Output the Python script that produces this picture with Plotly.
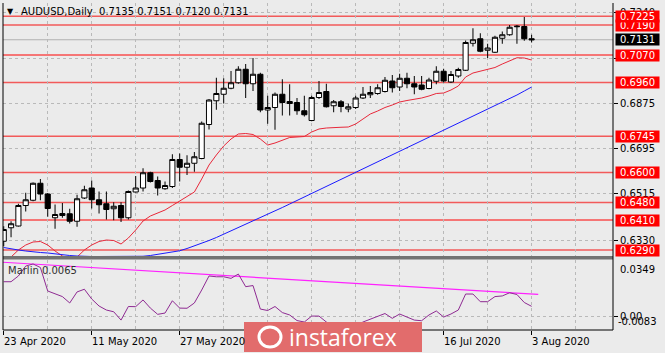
import plotly.graph_objects as go

# ---------------- data ----------------
idx = list(range(73))
opens = [0.6325, 0.6379, 0.6386, 0.6468, 0.6489, 0.6557, 0.6514, 0.6419, 0.6428, 0.6435,
         0.6405, 0.6498, 0.6538, 0.6491, 0.6475, 0.6455, 0.6468, 0.6419, 0.6522, 0.6538,
         0.6599, 0.6568, 0.6535, 0.6544, 0.6652, 0.6621, 0.6637, 0.6656, 0.6792, 0.6887,
         0.6913, 0.6937, 0.6959, 0.7013, 0.6955, 0.6993, 0.6850, 0.6860, 0.6913, 0.6884,
         0.6880, 0.6847, 0.6808, 0.6900, 0.6924, 0.6867, 0.6883, 0.6854, 0.6860, 0.6898,
         0.6911, 0.6916, 0.6924, 0.6966, 0.6942, 0.6977, 0.6955, 0.6950, 0.6936, 0.6965,
         0.7005, 0.6962, 0.6986, 0.7009, 0.7117, 0.7135, 0.7089, 0.7081, 0.7137, 0.7151,
         0.7183, 0.7184, 0.7135]
highs = [0.6385, 0.6405, 0.6475, 0.6519, 0.6560, 0.6574, 0.6518, 0.6472, 0.6478, 0.6455,
         0.6511, 0.6547, 0.6568, 0.6524, 0.6524, 0.6481, 0.6481, 0.6528, 0.6586, 0.6617,
         0.6603, 0.6584, 0.6564, 0.6673, 0.6676, 0.6669, 0.6682, 0.6804, 0.6894, 0.6979,
         0.6977, 0.7006, 0.7025, 0.7034, 0.7058, 0.6999, 0.6907, 0.6920, 0.6973, 0.6953,
         0.6898, 0.6907, 0.6907, 0.6966, 0.6955, 0.6890, 0.6890, 0.6876, 0.6907, 0.6942,
         0.6946, 0.6953, 0.6982, 0.6990, 0.6995, 0.6999, 0.6986, 0.6986, 0.6979, 0.7025,
         0.7015, 0.7006, 0.7019, 0.7128, 0.7177, 0.7157, 0.7115, 0.7147, 0.7164, 0.7190,
         0.7190, 0.7222, 0.7151]
lows = [0.6305, 0.6341, 0.6384, 0.6444, 0.6485, 0.6489, 0.6423, 0.6375, 0.6419, 0.6396,
        0.6383, 0.6494, 0.6456, 0.6436, 0.6412, 0.6409, 0.6402, 0.6412, 0.6520, 0.6524,
        0.6560, 0.6508, 0.6531, 0.6538, 0.6564, 0.6590, 0.6603, 0.6653, 0.6772, 0.6851,
        0.6876, 0.6933, 0.6955, 0.6898, 0.6926, 0.6841, 0.6795, 0.6771, 0.6828, 0.6828,
        0.6831, 0.6824, 0.6805, 0.6894, 0.6860, 0.6841, 0.6841, 0.6841, 0.6854, 0.6894,
        0.6898, 0.6911, 0.6920, 0.6920, 0.6926, 0.6937, 0.6913, 0.6929, 0.6933, 0.6953,
        0.6960, 0.6958, 0.6979, 0.7006, 0.7104, 0.7081, 0.7058, 0.7078, 0.7115, 0.7147,
        0.7115, 0.7127, 0.7120]
closes = [0.6372, 0.6395, 0.6468, 0.6491, 0.6557, 0.6514, 0.6456, 0.6432, 0.6436, 0.6405,
          0.6495, 0.6531, 0.6491, 0.6471, 0.6452, 0.6465, 0.6419, 0.6524, 0.6538, 0.6599,
          0.6564, 0.6538, 0.6548, 0.6652, 0.6621, 0.6637, 0.6663, 0.6797, 0.6890, 0.6916,
          0.6937, 0.6959, 0.7013, 0.6955, 0.6993, 0.6850, 0.6860, 0.6913, 0.6880, 0.6876,
          0.6847, 0.6831, 0.6900, 0.6920, 0.6863, 0.6883, 0.6864, 0.6863, 0.6898, 0.6913,
          0.6920, 0.6939, 0.6969, 0.6939, 0.6977, 0.6955, 0.6942, 0.6933, 0.6970, 0.7005,
          0.6966, 0.6992, 0.7012, 0.7120, 0.7131, 0.7085, 0.7098, 0.7141, 0.7151, 0.7181,
          0.7185, 0.7135, 0.7131]
ma_fast = [0.6242, 0.6262, 0.6290, 0.6310, 0.6322, 0.6324, 0.6310, 0.6286, 0.6266, 0.6256,
           0.6262, 0.6290, 0.6310, 0.6324, 0.6330, 0.6328, 0.6314, 0.6338, 0.6370, 0.6406,
           0.6426, 0.6438, 0.6450, 0.6468, 0.6486, 0.6502, 0.6522, 0.6574, 0.6630, 0.6670,
           0.6706, 0.6734, 0.6754, 0.6756, 0.6752, 0.6734, 0.6710, 0.6718, 0.6730, 0.6740,
           0.6742, 0.6744, 0.6762, 0.6774, 0.6778, 0.6781, 0.6781, 0.6782, 0.6794, 0.6814,
           0.6834, 0.6846, 0.6860, 0.6870, 0.6882, 0.6888, 0.6892, 0.6898, 0.6906, 0.6916,
           0.6918, 0.6930, 0.6946, 0.6982, 0.6998, 0.7006, 0.7014, 0.7020, 0.7034, 0.7048,
           0.7059, 0.7058, 0.7050]
ma_slow = [0.6300, 0.6294, 0.6290, 0.6286, 0.6282, 0.6280, 0.6278, 0.6274, 0.6270, 0.6268,
           0.6266, 0.6264, 0.6264, 0.6264, 0.6264, 0.6264, 0.6264, 0.6264, 0.6264, 0.6265,
           0.6268, 0.6272, 0.6276, 0.6280, 0.6287, 0.6296, 0.6306, 0.6316, 0.6328, 0.6340,
           0.6353, 0.6366, 0.6379, 0.6393, 0.6406, 0.6419, 0.6432, 0.6446, 0.6460, 0.6474,
           0.6488, 0.6502, 0.6516, 0.6530, 0.6544, 0.6558, 0.6572, 0.6586, 0.6600, 0.6614,
           0.6628, 0.6642, 0.6656, 0.6670, 0.6684, 0.6698, 0.6712, 0.6726, 0.6740, 0.6754,
           0.6768, 0.6782, 0.6796, 0.6810, 0.6824, 0.6838, 0.6852, 0.6866, 0.6880, 0.6894,
           0.6910, 0.6926, 0.6942]
marlin = [0.0219, 0.0219, 0.0255, 0.0317, 0.0330, 0.0308, 0.0161, 0.0142, 0.0126, 0.0086,
          0.0155, 0.0172, 0.0111, 0.0067, 0.0042, 0.0031, -0.0021, 0.0064, 0.0063, 0.0105,
          0.0054, 0.0015, 0.0023, 0.0100, 0.0054, 0.0053, 0.0086, 0.0167, 0.0255, 0.0250,
          0.0250, 0.0240, 0.0267, 0.0188, 0.0195, 0.0048, 0.0039, 0.0064, 0.0026, 0.0011,
          -0.0024, -0.0033, 0.0004, 0.0004, -0.0033, -0.0058, -0.0052, -0.0064, -0.0058, -0.0033,
          -0.0014, 0.0004, 0.0020, -0.0010, 0.0017, -0.0002, -0.0021, -0.0025, 0.0011, 0.0036,
          -0.0002, 0.0017, 0.0042, 0.0142, 0.0142, 0.0094, 0.0094, 0.0126, 0.0130, 0.0150,
          0.0139, 0.0089, 0.0065]
trend_x = [-0.5, 72.9]
trend_y = [0.0342, 0.0140]
levels = [0.6290, 0.6410, 0.6480, 0.6600, 0.6745, 0.6960, 0.7070, 0.7190, 0.7225]
level_strong = [False, True, False, False, False, False, True, False, False]
bid = 0.7131
price_ticks = [0.6330, 0.6515, 0.6695, 0.6875, 0.7057, 0.7240]
price_tick_text = ["0.6330", "0.6515", "0.6695", "0.6875", "", "0.7240"]
date_tick_idx = [0, 12, 24, 60, 72]
date_tick_text = ["23 Apr 2020", "11 May 2020", "27 May 2020", "16 Jul 2020", "3 Aug 2020"]
osc_max_text, osc_min_text = "0.0349", "-0.0083"
title_text = "AUDUSD,Daily  0.7135 0.7151 0.7120 0.7131"
osc_text = "Marlin 0.0065"

# ---------------- geometry helpers (pixel -> paper) ----------------
W, H = 665, 353
ML, MR, MT, MB = 3, 52, 3, 23
PW, PH = W - ML - MR, H - MT - MB


def px(x):
    return (x - ML) / PW


def py(y):
    return (H - MB - y) / PH


FONT = "DejaVu Sans"
BG = "#ebebeb"
GRID = "#b9b9b9"

fig = go.Figure()

fig.add_trace(go.Candlestick(
    x=idx, open=opens, high=highs, low=lows, close=closes,
    xaxis="x", yaxis="y",
    increasing=dict(line=dict(color="black", width=1), fillcolor="white"),
    decreasing=dict(line=dict(color="black", width=1), fillcolor="black"),
    whiskerwidth=0, showlegend=False, hoverinfo="skip"))
fig.add_trace(go.Scatter(x=idx, y=ma_fast, mode="lines", xaxis="x", yaxis="y",
                         line=dict(color="#e8283a", width=1), showlegend=False))
fig.add_trace(go.Scatter(x=idx, y=ma_slow, mode="lines", xaxis="x", yaxis="y",
                         line=dict(color="#1a1aff", width=1), showlegend=False))
fig.add_trace(go.Scatter(x=trend_x, y=trend_y, mode="lines", xaxis="x2", yaxis="y2",
                         line=dict(color="#ff22ff", width=1.2), showlegend=False))
fig.add_trace(go.Scatter(x=idx, y=marlin, mode="lines", xaxis="x2", yaxis="y2",
                         line=dict(color="#8e2a92", width=1), showlegend=False))

shapes = []
# horizontal levels
for lv, strong in zip(levels, level_strong):
    shapes.append(dict(type="line", xref="paper", yref="y", x0=0, x1=1, y0=lv, y1=lv,
                       line=dict(color="#ff0000" if strong else "#f25a5a",
                                 width=1 if strong else 1.6), layer="below"))
# bid line
shapes.append(dict(type="line", xref="paper", yref="y", x0=0, x1=1, y0=bid, y1=bid,
                   line=dict(color="#b0b0b0", width=1), layer="below"))
# separator between panes
shapes.append(dict(type="rect", xref="paper", yref="paper", x0=0, x1=1,
                   y0=py(259.5), y1=py(256), fillcolor="#727272", line=dict(width=0)))
# borders
shapes.append(dict(type="line", xref="paper", yref="paper", x0=0, x1=0, y0=0, y1=1,
                   line=dict(color="black", width=1)))
shapes.append(dict(type="line", xref="paper", yref="paper", x0=1, x1=1, y0=0, y1=1,
                   line=dict(color="black", width=1)))
shapes.append(dict(type="line", xref="paper", yref="paper", x0=0, x1=1, y0=0, y1=0,
                   line=dict(color="black", width=1)))
# logo box
shapes.append(dict(type="rect", xref="paper", yref="paper", x0=px(244), x1=px(422),
                   y0=py(352), y1=py(322), fillcolor="#e26c6c", line=dict(width=0),
                   layer="above"))
shapes.append(dict(type="circle", xref="paper", yref="paper", x0=px(259), x1=px(281),
                   y0=py(347), y1=py(327), line=dict(color="white", width=3),
                   layer="above"))

annotations = []
# level labels (0.7225 drawn last so it sits on top of 0.7190)
for lv in levels:
    if lv == 0.7225:
        continue
    annotations.append(dict(xref="paper", yref="y", x=px(615), y=lv, xanchor="left",
                            yanchor="middle", text=f"{lv:.4f}", showarrow=False,
                            bgcolor="#ff0000", font=dict(color="white", size=10, family=FONT),
                            borderpad=0, width=43))
annotations.append(dict(xref="paper", yref="y", x=px(615), y=0.7225, xanchor="left",
                        yanchor="middle", text="0.7225", showarrow=False,
                        bgcolor="#ff0000", font=dict(color="white", size=10, family=FONT),
                        borderpad=0, width=43))
annotations.append(dict(xref="paper", yref="y", x=px(615), y=bid, xanchor="left",
                        yanchor="middle", text=f"{bid:.4f}", showarrow=False,
                        bgcolor="black", font=dict(color="white", size=10, family=FONT),
                        borderpad=0, width=43))
# title
annotations.append(dict(xref="paper", yref="paper", x=px(5), y=py(12), xanchor="left",
                        yanchor="middle", text="▼", showarrow=False,
                        font=dict(color="black", size=8, family=FONT)))
annotations.append(dict(xref="paper", yref="paper", x=px(19), y=py(12), xanchor="left",
                        yanchor="middle", text=title_text, showarrow=False,
                        font=dict(color="black", size=10, family=FONT)))
annotations.append(dict(xref="paper", yref="paper", x=px(6), y=py(270), xanchor="left",
                        yanchor="middle", text=osc_text, showarrow=False,
                        font=dict(color="#303030", size=10, family=FONT)))
# oscillator scale labels
annotations.append(dict(xref="paper", yref="paper", x=px(618), y=py(261.5), xanchor="left",
                        yanchor="top", text=osc_max_text, showarrow=False,
                        font=dict(color="black", size=10, family=FONT)))
annotations.append(dict(xref="paper", yref="paper", x=px(616), y=py(329), xanchor="left",
                        yanchor="bottom", text=osc_min_text, showarrow=False,
                        font=dict(color="black", size=10, family=FONT)))
# date labels
for i, t in zip(date_tick_idx, date_tick_text):
    annotations.append(dict(xref="x2", yref="paper", x=i, y=py(334), xanchor="left",
                            yanchor="top", xshift=-2, text=t, showarrow=False,
                            font=dict(color="black", size=10, family=FONT)))
# logo text
annotations.append(dict(xref="paper", yref="paper", x=px(287), y=py(337), xanchor="left",
                        yanchor="middle", text="instaforex", showarrow=False,
                        font=dict(color="white", size=23, family="Open Sans")))

grid_common = dict(showgrid=True, gridcolor=GRID, griddash="3px,3px", gridwidth=1,
                   zeroline=False)
xr = [-0.1, 83.1]
fig.update_layout(
    width=W, height=H, margin=dict(l=ML, r=MR, t=MT, b=MB),
    paper_bgcolor=BG, plot_bgcolor=BG, showlegend=False,
    boxgap=0.3, boxgroupgap=0.0,
    xaxis=dict(domain=[0, 1], anchor="y", range=xr, showticklabels=False, ticks="",
               tick0=0, dtick=12, rangeslider=dict(visible=False),
               minor=dict(tick0=0, dtick=6, showgrid=True, gridcolor=GRID,
                          griddash="3px,3px"), **grid_common),
    xaxis2=dict(domain=[0, 1], anchor="y2", range=xr, matches="x", showticklabels=False,
                ticks="outside", ticklen=4, tickcolor="black", tick0=0, dtick=12,
                minor=dict(tick0=0, dtick=6, showgrid=True, gridcolor=GRID,
                           griddash="3px,3px"), **grid_common),
    yaxis=dict(domain=[py(256), 1], anchor="x", side="right", range=[0.6266, 0.7278],
               tickvals=price_ticks, ticktext=price_tick_text, ticks="outside", ticklen=4,
               tickcolor="black", tickfont=dict(family=FONT, size=10, color="black"),
               **grid_common),
    yaxis2=dict(domain=[0, py(259.5)], anchor="x2", side="right", range=[-0.0083, 0.0358],
                tickvals=[0], ticktext=["0.00"], ticks="outside", ticklen=4,
                tickcolor="black", tickfont=dict(family=FONT, size=10, color="black"),
                **grid_common),
    shapes=shapes, annotations=annotations,
)

fig.write_html("out.html")
